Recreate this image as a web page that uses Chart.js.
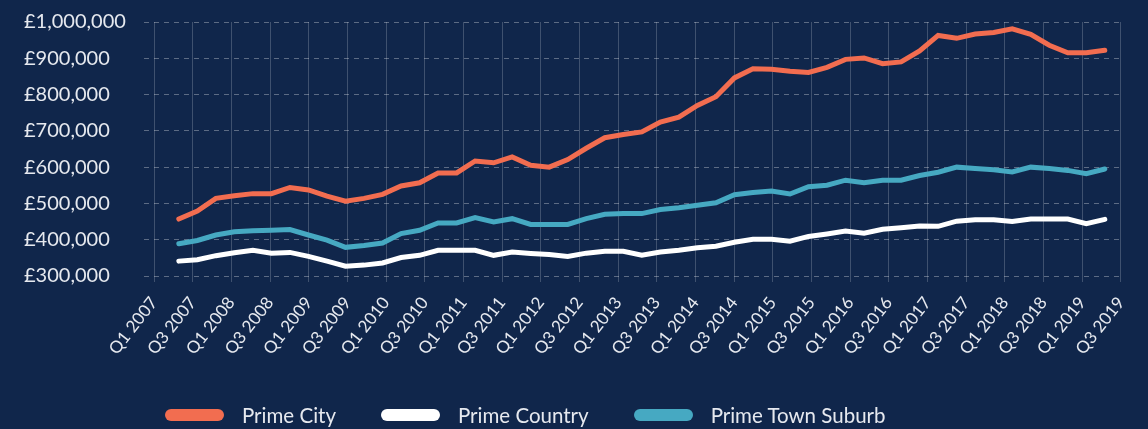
<!DOCTYPE html>
<html>
<head>
<meta charset="utf-8">
<title>Prime property values</title>
<script src="https://cdn.jsdelivr.net/npm/chart.js@4.4.0/dist/chart.umd.min.js"></script>
<style>
    html, body { margin: 0; padding: 0; background: #10264b; }
    #wrap { position: relative; width: 1148px; height: 429px; }
    #legend {
        position: absolute; top: 403px; left: 165px;
        display: flex; align-items: center; gap: 45px;
        font-family: Lato, "Noto Sans", sans-serif; font-size: 20.5px; color: #e6e9ef;
    }
    .legend-item { display: flex; align-items: center; }
    .legend-swatch { width: 59px; height: 12px; border-radius: 6px; margin-right: 18px; }
</style>
</head>
<body>
<div id="wrap">
    <canvas id="chart" width="1148" height="429"></canvas>
    <div id="legend"></div>
</div>
<script>
// tick labels shown under the chart (every second quarter)
const quarterLabels = [
    'Q1 2007', 'Q3 2007', 'Q1 2008', 'Q3 2008', 'Q1 2009', 'Q3 2009', 'Q1 2010', 'Q3 2010',
    'Q1 2011', 'Q3 2011', 'Q1 2012', 'Q3 2012', 'Q1 2013', 'Q3 2013', 'Q1 2014', 'Q3 2014',
    'Q1 2015', 'Q3 2015', 'Q1 2016', 'Q3 2016', 'Q1 2017', 'Q3 2017', 'Q1 2018', 'Q3 2018',
    'Q1 2019', 'Q3 2019'
];

const seriesNames = ['Prime City', 'Prime Country', 'Prime Town Suburb'];
const seriesColors = ['#f26d50', '#ffffff', '#46a9c2'];

// quarterly average values (£)
const primeCity = [
    457000, 479000, 514000, 521000, 527000, 527000, 544000, 537000, 520000, 506000,
    514000, 525000, 548000, 557000, 584000, 584000, 617000, 612000, 628000, 605000,
    600000, 621000, 652000, 681000, 690000, 697000, 724000, 738000, 770000, 794000,
    846000, 871000, 870000, 864000, 861000, 875000, 897000, 901000, 885000, 890000,
    920000, 963000, 955000, 967000, 971000, 981000, 966000, 936000, 915000, 915000,
    922000
];
const primeCountry = [
    341000, 345000, 356000, 364000, 371000, 363000, 365000, 354000, 341000, 327000,
    330000, 336000, 351000, 357000, 371000, 371000, 371000, 357000, 366000, 362000,
    359000, 354000, 363000, 368000, 368000, 357000, 366000, 371000, 378000, 382000,
    393000, 401000, 401000, 396000, 409000, 416000, 424000, 418000, 429000, 433000,
    438000, 437000, 451000, 455000, 455000, 450000, 457000, 457000, 457000, 444000,
    456000
];
const primeTownSuburb = [
    389000, 398000, 413000, 422000, 425000, 426000, 428000, 413000, 399000, 379000,
    384000, 391000, 417000, 426000, 446000, 446000, 461000, 449000, 458000, 442000,
    442000, 442000, 458000, 470000, 472000, 472000, 483000, 488000, 495000, 502000,
    524000, 530000, 534000, 526000, 546000, 550000, 564000, 557000, 564000, 564000,
    577000, 586000, 600000, 596000, 593000, 587000, 600000, 596000, 591000, 582000,
    595000
];

const allSeries = [primeCity, primeCountry, primeTownSuburb];

const textColor = '#e6e9ef';
const fontFamily = 'Lato, "Noto Sans", sans-serif';

const datasets = allSeries.map((values, index) => {
    return {
        label: seriesNames[index],
        data: values.map((v, i) => ({ x: i, y: v })),
        xAxisID: 'xData',
        borderColor: seriesColors[index],
        backgroundColor: seriesColors[index],
        borderWidth: 5,
        pointRadius: 0,
        tension: 0,
        borderCapStyle: 'round',
        fill: false
    };
});

const config = {
    type: 'line',
    data: {
        labels: quarterLabels,
        datasets: datasets
    },
    options: {
        responsive: false,
        animation: false,
        layout: {
            padding: { left: 24, right: 20, top: 22, bottom: 0 }
        },
        plugins: {
            legend: { display: false },
            tooltip: { enabled: false }
        },
        scales: {
            x: {
                type: 'category',
                offset: false,
                border: { display: false },
                grid: {
                    color: 'rgba(255, 255, 255, 0.2)',
                    lineWidth: 1,
                    tickLength: 6
                },
                ticks: {
                    color: textColor,
                    font: { family: fontFamily, size: 17 },
                    minRotation: 52,
                    maxRotation: 52,
                    autoSkip: false,
                    padding: 11
                },
                afterFit: (scale) => { scale.height = 153; }
            },
            xData: {
                type: 'linear',
                display: false,
                min: -1.34,
                max: 50.87
            },
            y: {
                min: 300000,
                max: 1000000,
                grid: {
                    color: 'rgba(255, 255, 255, 0.32)',
                    lineWidth: 1,
                    tickLength: 10,
                    tickColor: 'rgba(255, 255, 255, 0.32)',
                    tickBorderDash: [5, 5]
                },
                border: { display: false, dash: [5, 5] },
                ticks: {
                    stepSize: 100000,
                    color: textColor,
                    crossAlign: 'far',
                    font: { family: fontFamily, size: 20 },
                    callback: value => '£' + value.toLocaleString('en-GB')
                },
                afterFit: (scale) => { scale.width = 130; }
            }
        }
    }
};

new Chart(document.getElementById('chart'), config);

// simple html legend
const legend = document.getElementById('legend');
seriesNames.forEach((name, index) => {
    const item = document.createElement('div');
    item.className = 'legend-item';
    item.innerHTML = `<span class="legend-swatch" style="background:${seriesColors[index]}"></span><span>${name}</span>`;
    legend.appendChild(item);
});
</script>
</body>
</html>
